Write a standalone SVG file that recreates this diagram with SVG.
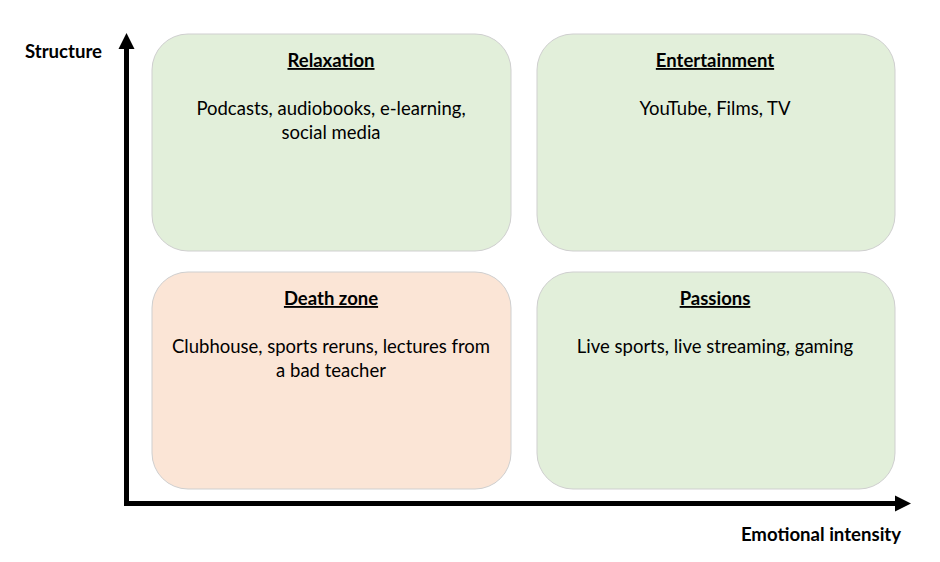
<svg xmlns="http://www.w3.org/2000/svg" width="940" height="562" viewBox="0 0 940 562">
<style>
.box{stroke:#cfcfcf;stroke-width:1}
.g{fill:#e2efda}
.p{fill:#fbe5d6}
text{font-family:Lato,"Liberation Sans",sans-serif;fill:#000;text-anchor:middle}
.t{font-size:18.5px;font-weight:bold;text-decoration:underline}
.b{font-size:18.5px}
.ax{font-size:18.6px;font-weight:bold}
</style>
<defs>
<marker id="ah" markerWidth="4" markerHeight="4" refX="0" refY="2" orient="auto" markerUnits="strokeWidth">
<path d="M0,0.4 L3.2,2 L0,3.6 Z" fill="#000"/>
</marker>
</defs>
<rect width="940" height="562" fill="#fff"/>
<g id="relaxation">
<rect class="box g" x="152" y="34" width="359" height="217" rx="36"/>
<text class="t" x="331" y="67">Relaxation</text>
<text class="b" x="331" y="115">Podcasts, audiobooks, e-learning,</text>
<text class="b" x="331" y="139">social media</text>
</g>
<g id="entertainment">
<rect class="box g" x="537" y="34" width="358" height="217" rx="36"/>
<text class="t" x="715" y="67">Entertainment</text>
<text class="b" x="715" y="115">YouTube, Films, TV</text>
</g>
<g id="deathzone">
<rect class="box p" x="152" y="272" width="359" height="217" rx="36"/>
<text class="t" x="331" y="305">Death zone</text>
<text class="b" x="331" y="353">Clubhouse, sports reruns, lectures from</text>
<text class="b" x="331" y="377">a bad teacher</text>
</g>
<g id="passions">
<rect class="box g" x="537" y="272" width="358" height="217" rx="36"/>
<text class="t" x="715" y="305">Passions</text>
<text class="b" x="715" y="353">Live sports, live streaming, gaming</text>
</g>
<g id="axes" fill="none" stroke="#000" stroke-width="5">
<path d="M126.5,503.5 L126.5,49" marker-end="url(#ah)"/>
<path d="M124,503.5 L895,503.5" marker-end="url(#ah)"/>
</g>
<g id="labels">
<text class="ax" x="63.5" y="58">Structure</text>
<text class="ax" x="821" y="541">Emotional intensity</text>
</g>
</svg>
